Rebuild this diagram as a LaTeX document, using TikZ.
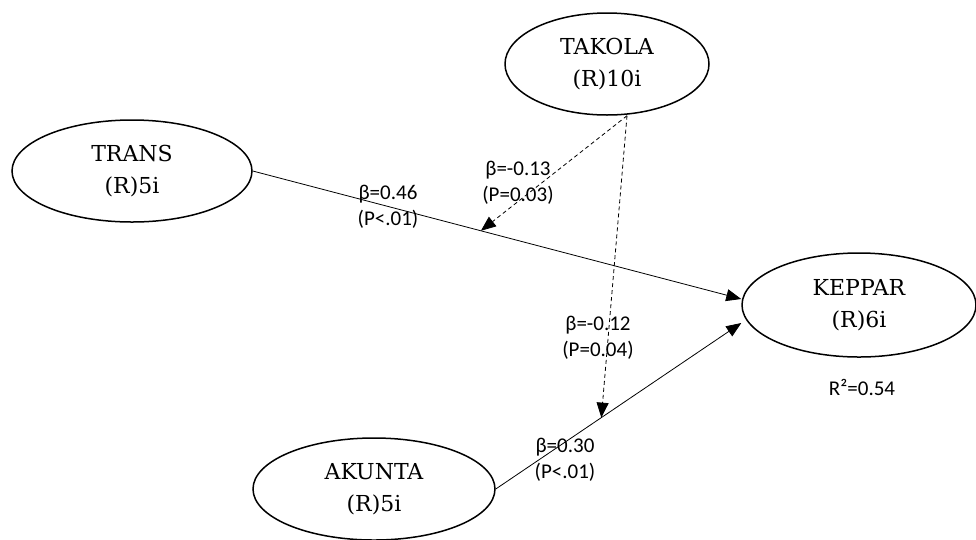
\documentclass[tikz,border=0pt]{standalone}
\usepackage{fontspec}
\setmainfont{DejaVu Serif}
\newfontfamily\labelfont{Carlito}
\usetikzlibrary{positioning,calc,arrows.meta,shapes.geometric}

\tikzset{
  latent/.style={ellipse,draw,line width=1.5pt,align=center,
    font=\fontsize{22}{32}\selectfont},
  coef/.style={align=center,inner sep=1pt,
    font=\labelfont\fontsize{21}{26}\selectfont},
  path/.style={line width=0.8pt,-{Triangle[length=15pt,width=12pt]}},
  moder/.style={path,dash pattern=on 4pt off 3pt}
}

\begin{document}
\begin{tikzpicture}[x=1pt,y=-1pt]
    \useasboundingbox (0,0) rectangle (976,539);

    % the four constructs
    \node[latent,minimum width=240pt,minimum height=102pt] (trans) at (132,171) {TRANS\\(R)5i};
    \node[latent,minimum width=204pt,minimum height=102pt] (takola) at (607,64) {TAKOLA\\(R)10i};
    \node[latent,minimum width=234pt,minimum height=104pt] (keppar) at (859,305) {KEPPAR\\(R)6i};
    \node[latent,minimum width=242pt,minimum height=102pt] (akunta) at (374,489) {AKUNTA\\(R)5i};

    % direct paths
    \draw[path] (trans.east) -- coordinate[pos=0.467] (hit1) ([yshift=6pt]keppar.west);
    \draw[path] (akunta.east) -- coordinate[pos=0.43] (hit2) ([yshift=-18pt]keppar.west);

    % moderating paths from takola
    \draw[moder] ([xshift=20pt]takola.south) -- (hit1);
    \draw[moder] ([xshift=20pt]takola.south) -- (hit2);

    % coefficients
    \node[coef] (b1) at (388,207) {β=0.46\\(P<.01)};
    \node[coef] (b2) at (518,183) {β=-0.13\\(P=0.03)};
    \node[coef] (b3) at (598,338) {β=-0.12\\(P=0.04)};
    \node[coef] (b4) at (565,460) {β=0.30\\(P<.01)};
    \node[coef] (r2) at (862,387) {R²=0.54};

\end{tikzpicture}
\end{document}
